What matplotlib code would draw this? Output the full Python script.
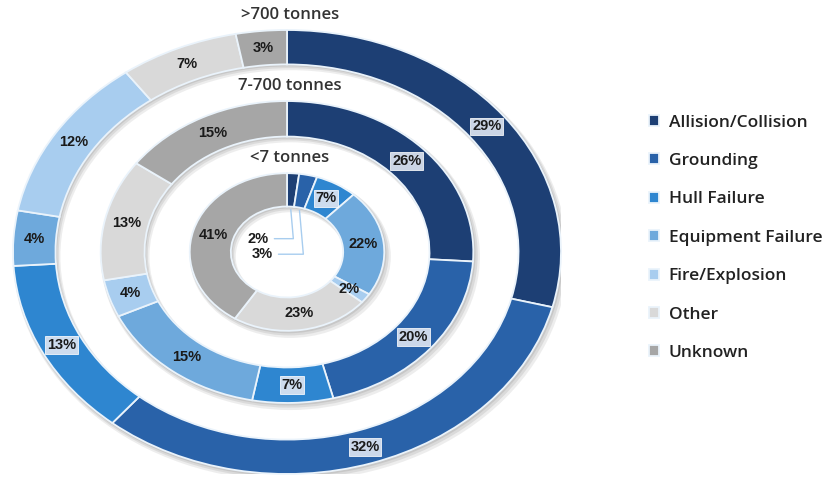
import numpy as np
import matplotlib
matplotlib.use("Agg")
import matplotlib.pyplot as plt
from matplotlib.patches import Wedge

# Spill causes by spill size (percent of incidents)
categories = ["Allision/Collision", "Grounding", "Hull Failure",
              "Equipment Failure", "Fire/Explosion", "Other", "Unknown"]
over_700 = [29, 32, 13, 4, 12, 7, 3]
from_7_to_700 = [26, 20, 7, 15, 4, 13, 15]
under_7 = [2, 3, 7, 22, 2, 23, 41]
ring_titles = [">700 tonnes", "7-700 tonnes", "<7 tonnes"]

colors = ["#1d3f74", "#2962a9", "#2e86d0", "#6ea9dc",
          "#a8cdef", "#d9d9d9", "#a6a6a6"]
dark = {0, 1, 2}

fig = plt.figure(figsize=(8.31, 4.86), dpi=100)
ax = fig.add_axes([13 / 831, 12 / 486, 548 / 831, 444 / 486])

rings = [
    (over_700, 1.0, 0.155),
    (from_7_to_700, 0.68, 0.16),
    (under_7, 0.355, 0.15),
]

# soft drop shadow under each ring
for _, r, w in rings:
    for k, (dx, dy, a) in enumerate([(0.012, -0.02, 0.10), (0.008, -0.013, 0.12),
                                     (0.004, -0.007, 0.14)]):
        ax.add_patch(Wedge((dx, dy), r + 0.004 * (3 - k), 0, 360,
                           width=w + 0.006 * (3 - k),
                           facecolor="#555555", alpha=a, edgecolor="none"))

handles = None
for vals, r, w in rings:
    wedges, _ = ax.pie(vals, radius=r, colors=colors, startangle=90,
                       counterclock=False,
                       wedgeprops=dict(width=w, edgecolor="#eaf3fb",
                                       linewidth=1.3))
    if handles is None:
        handles = wedges

ax.set_aspect("auto")
ax.set_xlim(-1, 1)
ax.set_ylim(-1, 1)
ax.axis("off")

label_font = dict(family="Liberation Sans", fontsize=10.5, fontweight="bold",
                  color="#1a1a1a", ha="center", va="center")
box = dict(boxstyle="square,pad=0.12", facecolor="#dfe6f2",
           edgecolor="#ffffff", linewidth=0.6, alpha=0.9)

for ring_i, (vals, r, w) in enumerate(rings):
    total = sum(vals)
    cum = 0
    for i, v in enumerate(vals):
        mid = (cum + v / 2) / total * 2 * np.pi
        cum += v
        rm = r - w / 2
        x, y = rm * np.sin(mid), rm * np.cos(mid)
        text = f"{v}%"
        if ring_i == 2 and i in (0, 1):
            # tiny inner slices: label near the centre with a leader line
            ty = 0.06 if i == 0 else -0.01
            tx = -0.105 if i == 0 else -0.09
            ax.annotate(text,
                        xy=((r - w) * np.sin(mid), (r - w) * np.cos(mid)),
                        xytext=(tx, ty), textcoords="data",
                        arrowprops=dict(arrowstyle="-", color="#a8cdef",
                                        linewidth=1.0,
                                        connectionstyle="angle,angleA=0,angleB=95,rad=0"),
                        **label_font)
            continue
        kw = dict(label_font)
        if i in dark:
            kw["bbox"] = box
        ax.text(x, y, text, **kw)

title_font = dict(family="Open Sans", fontsize=12, fontweight="semibold",
                  color="#333333", ha="center", va="center")
for (vals, r, w), t in zip(rings, ring_titles):
    ax.text(0.01, r + 0.068, t, **title_font)

fig.legend(handles, categories, loc="upper left",
           bbox_to_anchor=(633 / 831, 1 - 99 / 486), frameon=False,
           handlelength=0.6, handleheight=0.6, handletextpad=0.55,
           labelspacing=1.29,
           prop=dict(family="Open Sans", size=12.5, weight="semibold"),
           labelcolor="#222222")

fig.savefig("out.png", dpi=100, facecolor="white")
